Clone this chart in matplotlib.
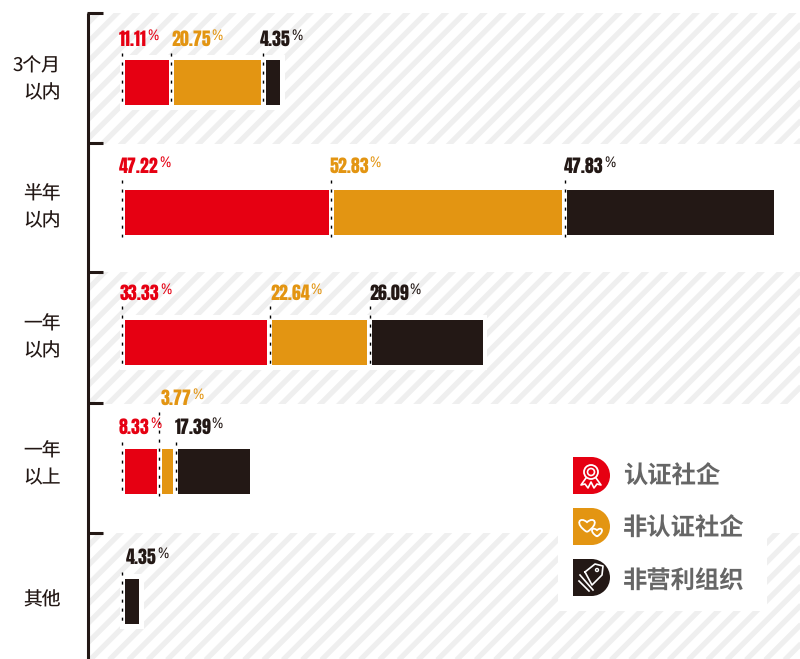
import matplotlib
matplotlib.use('Agg')
import matplotlib.pyplot as plt
from matplotlib.patches import Rectangle, Circle, PathPatch, Wedge
from matplotlib.path import Path

# data
categories = [['3个月', '以内'], ['半年', '以内'], ['一年', '以内'], ['一年', '以上'], ['其他']]
certified = [11.11, 47.22, 33.33, 8.33, None]
uncertified = [20.75, 52.83, 22.64, 3.77, None]
nonprofit = [4.35, 47.83, 26.09, 17.39, 4.35]
series_names = ['认证社企', '非认证社企', '非营利组织']

RED = '#e60012'
ORANGE = '#e39512'
BLACK = '#231815'
STRIPE = '#efefef'
colors = [RED, ORANGE, BLACK]

CJK = ['Noto Sans CJK SC', 'DejaVu Sans']
NUM = ['Anton', 'Liberation Sans', 'DejaVu Sans']
PCT = ['Archivo Narrow', 'Liberation Sans', 'DejaVu Sans']

PX_PER_PCT = 4.42
BAR_X = 125
GAP = 5
BAR_H = 45
row_top = [60, 190, 320, 449, 579]
band_edges = [13, 143, 272, 403, 533, 659]
band_phase = [690, 763, 1078]
halo_right = [285, None, 487, None, 144]
cat_y = [66, 194, 324, 451, 600]

# label tweaks, pixels from the bar's left edge and above its top
label_dx = [[-6, -3, -6], [-6, -4, -3], [-5, -2, -3], [-6, -1, -4], [None, None, 1]]
label_up = [[14, 14, 14], [17, 17, 17], [20, 20, 20], [15, 44, 15], [15, 15, 15]]
dots_up = [[7, 7, 7], [10, 10, 10], [14, 14, 14], [7, 37, 7], [7, 7, 7]]


def stripes(ax, top, bottom, phase):
    'Light diagonal stripes clipped to one band.'
    clip = Rectangle((90, top), 710, bottom - top, transform=ax.transData)
    c = phase % 19.3
    while c < 1600:
        line, = ax.plot([c, c - 1000], [0, 1000], color=STRIPE,
                        lw=3.8, solid_capstyle='butt', zorder=1)
        line.set_clip_path(clip)
        c += 19.3


def d_icon(ax, y, color):
    'Square on the left, round on the right.'
    x = 573
    ax.add_patch(Rectangle((x, y), 18.5, 37, fc=color, ec='none', zorder=4))
    ax.add_patch(Wedge((x + 18.5, y + 18.5), 18.5, -90, 90, fc=color, ec='none', zorder=4))


def heart(ax, cx, cy, s, lw=1.3):
    verts = [(cx, cy + s), (cx - 1.9 * s, cy - 0.2 * s), (cx - s, cy - 1.3 * s), (cx, cy - 0.4 * s),
             (cx + s, cy - 1.3 * s), (cx + 1.9 * s, cy - 0.2 * s), (cx, cy + s)]
    codes = [Path.MOVETO, Path.CURVE4, Path.CURVE4, Path.CURVE4, Path.CURVE4, Path.CURVE4, Path.CURVE4]
    ax.add_patch(PathPatch(Path(verts, codes), fc='none', ec='white', lw=lw, zorder=5))


plt.rcParams['text.hinting'] = 'no_hinting'
plt.rcParams['text.hinting_factor'] = 1

fig = plt.figure(figsize=(8, 6.59), dpi=100)
ax = fig.add_axes([0, 0, 1, 1])
ax.set_xlim(0, 800)
ax.set_ylim(659, 0)
ax.axis('off')

for n, i in enumerate([0, 2, 4]):
    stripes(ax, band_edges[i], band_edges[i + 1] + (1 if i < 4 else 0), band_phase[n])

# axis with brackets
ax.plot([88, 88], [band_edges[0], 659], color=BLACK, lw=2.2, zorder=6, solid_capstyle='butt')
for y in band_edges[:-1]:
    ax.plot([87, 103], [y, y], color=BLACK, lw=2.2, zorder=6, solid_capstyle='butt')

# white boxes behind bars and legend
for top, right in zip(row_top, halo_right):
    if right is not None:
        ax.add_patch(Rectangle((120, top - 5), right - 120, BAR_H + 10, fc='white', ec='none', zorder=2))
ax.add_patch(Rectangle((558, 533), 209, 78, fc='white', ec='none', zorder=2))

for r, name in enumerate(categories):
    for j, part in enumerate(name):
        ax.text(60.5, cat_y[r] + 27 * j, part, ha='right', va='center', family=CJK, weight=500,
                fontsize=13.5, color=BLACK)

    left = BAR_X
    for s, vals in enumerate([certified, uncertified, nonprofit]):
        v = vals[r]
        if v is None:
            continue
        w = v * PX_PER_PCT
        ax.barh(row_top[r] + BAR_H / 2, w - GAP, left=left, height=BAR_H, color=colors[s], zorder=3)
        ax.plot([left - 2.7, left - 2.7], [row_top[r] - dots_up[r][s], row_top[r] + BAR_H + 2], color='black', lw=1,
                linestyle=(0, (2.2, 4.3)), zorder=4)
        num = ax.text(left + label_dx[r][s], row_top[r] - label_up[r][s], f'{v:.2f}', family=NUM,
                      fontsize=13.2, color=colors[s], ha='left', va='baseline', zorder=5)
        ax.annotate('%', xy=(1, 1), xycoords=num, xytext=(0.3, 1), textcoords='offset points', ha='left', va='top',
                    family=PCT, fontsize=11, color=colors[s], zorder=5)
        left += w

# legend
legend_y = [457, 508, 559]
legend_text_y = [477, 529, 581]
for name, y, ty, c in zip(series_names, legend_y, legend_text_y, colors):
    d_icon(ax, y, c)
    ax.text(623, ty, name, family=CJK, weight='bold', fontsize=17.5, color='#666666',
            ha='left', va='center', zorder=5)

# ribbon icon
ax.add_patch(Circle((591, 472), 7, fc='none', ec='white', lw=1.3, zorder=5))
ax.add_patch(Circle((591, 472), 3.5, fc='none', ec='white', lw=1.2, zorder=5))
ax.plot([586, 581, 585, 588, 591, 594, 597, 601, 596], [478, 485, 484, 488, 482, 488, 484, 485, 478],
        color='white', lw=1.2, zorder=5)
# hearts icon
heart(ax, 587, 525, 7)
heart(ax, 597, 532, 4.5)
# tag icon
ax.plot([585, 595, 603, 602, 592, 585], [572, 564, 566, 575, 585, 572], color='white', lw=1.2, zorder=5)
ax.plot([580, 593], [575, 590], color='white', lw=1.2, zorder=5)
ax.plot([579, 589], [581, 591], color='white', lw=1.2, zorder=5)
ax.add_patch(Circle((597, 570), 1.5, fc='none', ec='white', lw=1, zorder=5))

fig.savefig('out.png', dpi=100)
